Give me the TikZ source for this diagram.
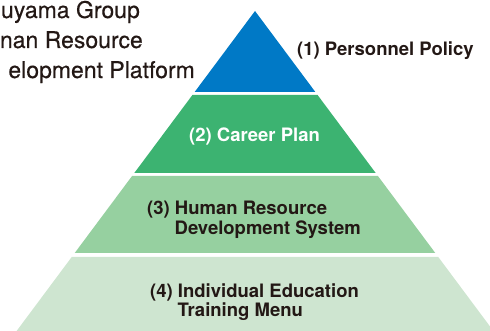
\documentclass[tikz,border=0pt]{standalone}
\usepackage{fontspec}
\setmainfont{TeX Gyre Heros}
\newfontfamily\headfont[FakeBold=0.4]{TeX Gyre Heros}
\usetikzlibrary{positioning}

\definecolor{inkdark}{HTML}{231815}
\definecolor{tierblue}{HTML}{0079C6}
\definecolor{tiergreen}{HTML}{3CB371}
\definecolor{tiermid}{HTML}{96D0A0}
\definecolor{tierpale}{HTML}{CEE5D0}

\begin{document}
\begin{tikzpicture}[
    x=1pt, y=-1pt,
    heading/.style={font=\headfont\fontsize{23}{25}\selectfont, text=inkdark, inner sep=0pt, anchor=base east},
    tiertext/.style={font=\fontsize{18.5}{20}\selectfont\bfseries, text=inkdark, inner sep=0pt, anchor=base west}
]
    \useasboundingbox (0,0) rectangle (490,331);
    \clip (0,0) rectangle (490,331);

    % pyramid tiers: top y / bottom y / colour, apex at (255,11)
    \foreach \ytop/\ybot/\col in {11/92/tierblue, 95/173/tiergreen, 176/253/tiermid, 257/331/tierpale} {
        \pgfmathsetmacro{\wtop}{0.745*(\ytop-11)}
        \pgfmathsetmacro{\wbot}{0.745*(\ybot-11)}
        \fill[\col] (255-\wtop,\ytop) -- (255+\wtop,\ytop) -- (255+\wbot,\ybot) -- (255-\wbot,\ybot) -- cycle;
    }

    % platform title
    \node[heading] (title1) at (140,18) {uyama Group};
    \node[heading] (title2) at (143,48) {nan Resource};
    \node[heading] (title3) at (195,78) {elopment Platform};

    % tier labels
    \node[tiertext] (tier1) at (297,56) {(1) Personnel Policy};
    \node[tiertext, text=white] (tier2) at (189,142) {(2) Career Plan};
    \node[tiertext] (tier3) at (147,215) {(3) Human Resource};
    \node[tiertext] (tier3b) at (174.5,234.5) {Development System};
    \node[tiertext] (tier4) at (150,297) {(4) Individual Education};
    \node[tiertext] (tier4b) at (177.5,316.5) {Training Menu};
\end{tikzpicture}
\end{document}
